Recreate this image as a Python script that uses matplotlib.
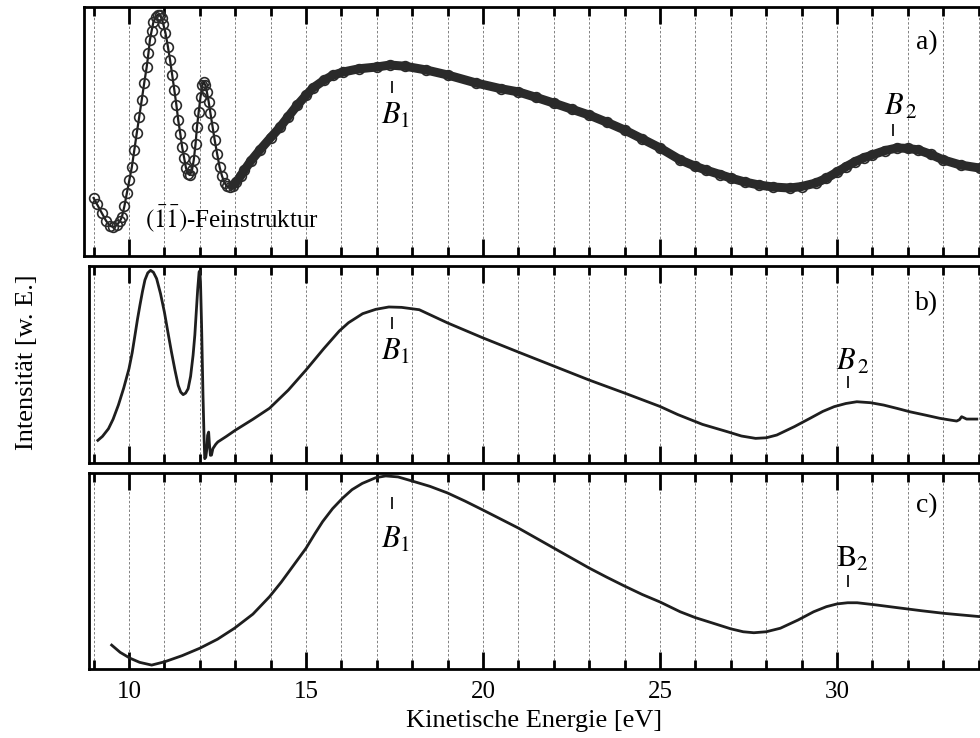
import numpy as np
import matplotlib
matplotlib.use("Agg")
import matplotlib.pyplot as plt

plt.rcParams['font.family'] = ['Liberation Serif', 'DejaVu Serif']
plt.rcParams['mathtext.fontset'] = 'stix'

# panel a) - measured fine structure (circles)
energy_a = [9.00, 9.10, 9.23, 9.35, 9.45, 9.56, 9.66, 9.75, 9.80, 9.87,
            9.94, 10.01, 10.08, 10.15, 10.22, 10.29, 10.36, 10.43, 10.50, 10.55,
            10.59, 10.64, 10.69, 10.75, 10.81, 10.87, 10.92, 10.97, 11.03, 11.10,
            11.16, 11.22, 11.28, 11.34, 11.39, 11.45, 11.50, 11.56, 11.61, 11.67,
            11.72, 11.78, 11.83, 11.88, 11.92, 11.97, 12.02, 12.07, 12.11, 12.16,
            12.20, 12.25, 12.30, 12.36, 12.42, 12.49, 12.56, 12.63, 12.70, 12.77,
            12.84, 12.93, 13.03, 13.15, 13.26, 13.45, 13.70, 14.00, 14.27, 14.50,
            14.75, 15.00, 15.20, 15.50, 15.75, 16.05, 16.50, 17.00, 17.37, 17.80,
            18.40, 19.00, 19.80, 20.50, 21.00, 21.50, 22.00, 22.50, 23.00, 23.50,
            24.00, 24.50, 25.00, 25.57, 26.00, 26.30, 26.70, 27.00, 27.40, 27.80,
            28.20, 28.67, 29.00, 29.40, 29.70, 30.00, 30.25, 30.50, 30.75, 31.00,
            31.35, 31.70, 32.00, 32.30, 32.65, 33.00, 33.50, 34.04]
intens_a = [0.233, 0.207, 0.173, 0.142, 0.122, 0.116, 0.124, 0.142, 0.157, 0.200,
            0.253, 0.305, 0.357, 0.425, 0.494, 0.560, 0.627, 0.695, 0.759, 0.815,
            0.867, 0.905, 0.940, 0.960, 0.968, 0.966, 0.956, 0.930, 0.896, 0.840,
            0.787, 0.727, 0.667, 0.605, 0.546, 0.490, 0.438, 0.392, 0.353, 0.330,
            0.325, 0.345, 0.386, 0.450, 0.518, 0.580, 0.639, 0.685, 0.699, 0.685,
            0.659, 0.620, 0.574, 0.520, 0.466, 0.410, 0.357, 0.320, 0.293, 0.280,
            0.277, 0.283, 0.297, 0.320, 0.345, 0.383, 0.426, 0.475, 0.518, 0.560,
            0.605, 0.645, 0.675, 0.705, 0.725, 0.739, 0.752, 0.759, 0.767, 0.762,
            0.747, 0.727, 0.695, 0.672, 0.659, 0.637, 0.614, 0.590, 0.566, 0.537,
            0.506, 0.470, 0.434, 0.386, 0.360, 0.345, 0.327, 0.313, 0.297, 0.285,
            0.277, 0.273, 0.279, 0.293, 0.312, 0.337, 0.358, 0.378, 0.394, 0.406,
            0.423, 0.434, 0.432, 0.426, 0.408, 0.386, 0.365, 0.353]

# panel b)
energy_b = [9.12, 9.25, 9.42, 9.55, 9.70, 9.85, 10.00, 10.09, 10.17, 10.24,
            10.31, 10.38, 10.45, 10.53, 10.61, 10.69, 10.78, 10.89, 11.00, 11.10,
            11.20, 11.30, 11.39, 11.46, 11.53, 11.60, 11.67, 11.74, 11.81, 11.86,
            11.90, 11.94, 11.98, 12.00, 12.02, 12.05, 12.09, 12.12, 12.14, 12.17,
            12.20, 12.22, 12.25, 12.27, 12.30, 12.33, 12.37, 12.45, 12.51, 12.75,
            13.00, 13.50, 13.97, 14.50, 15.00, 15.50, 15.94, 16.20, 16.60, 16.97,
            17.34, 17.70, 18.20, 19.00, 20.00, 21.00, 22.00, 23.00, 24.00, 25.00,
            25.50, 26.20, 26.90, 27.30, 27.70, 28.00, 28.30, 28.80, 29.24, 29.60,
            29.92, 30.25, 30.56, 30.95, 31.32, 31.70, 32.06, 32.50, 32.90, 33.20,
            33.38, 33.46, 33.52, 33.58, 33.66, 33.95]
intens_b = [0.115, 0.135, 0.174, 0.222, 0.294, 0.380, 0.479, 0.560, 0.650, 0.730,
            0.802, 0.870, 0.929, 0.965, 0.978, 0.968, 0.936, 0.860, 0.766, 0.663,
            0.563, 0.470, 0.394, 0.360, 0.347, 0.355, 0.377, 0.440, 0.547, 0.650,
            0.766, 0.880, 0.970, 0.975, 0.919, 0.700, 0.345, 0.130, 0.022, 0.030,
            0.073, 0.140, 0.157, 0.100, 0.039, 0.040, 0.073, 0.095, 0.107, 0.135,
            0.166, 0.222, 0.278, 0.370, 0.472, 0.580, 0.670, 0.712, 0.758, 0.780,
            0.792, 0.790, 0.778, 0.711, 0.635, 0.563, 0.492, 0.421, 0.355, 0.287,
            0.246, 0.196, 0.159, 0.137, 0.125, 0.128, 0.142, 0.185, 0.227, 0.262,
            0.286, 0.302, 0.311, 0.306, 0.294, 0.277, 0.260, 0.243, 0.227, 0.218,
            0.213, 0.220, 0.235, 0.230, 0.223, 0.223]

# panel c)
energy_c = [9.51, 9.75, 10.03, 10.30, 10.64, 11.01, 11.50, 12.00, 12.50, 12.98,
            13.50, 13.97, 14.30, 14.62, 15.00, 15.25, 15.47, 15.75, 16.03, 16.30,
            16.59, 16.97, 17.25, 17.60, 18.00, 18.50, 19.00, 19.50, 20.00, 20.50,
            21.00, 21.50, 22.00, 22.50, 23.00, 23.50, 24.00, 24.50, 25.00, 25.57,
            26.00, 26.51, 27.00, 27.35, 27.65, 28.00, 28.40, 28.90, 29.34, 29.70,
            30.00, 30.30, 30.57, 31.10, 31.70, 32.40, 33.02, 33.50, 34.05]
intens_c = [0.122, 0.085, 0.055, 0.034, 0.020, 0.037, 0.068, 0.106, 0.152, 0.208,
            0.280, 0.369, 0.443, 0.522, 0.616, 0.690, 0.752, 0.818, 0.871, 0.915,
            0.947, 0.976, 0.985, 0.980, 0.959, 0.932, 0.898, 0.856, 0.811, 0.765,
            0.719, 0.668, 0.617, 0.566, 0.515, 0.468, 0.423, 0.380, 0.342, 0.292,
            0.262, 0.233, 0.205, 0.190, 0.185, 0.190, 0.208, 0.250, 0.292, 0.318,
            0.332, 0.338, 0.338, 0.327, 0.313, 0.297, 0.284, 0.276, 0.267]

major_ticks = [10, 15, 20, 25, 30]

W, H = 980, 738
PX_PER_EV = 35.4
X10_PX = 129
X_RIGHT = 10 + (W - X10_PX) / PX_PER_EV

def px_to_ev(px):
    return 10 + (px - X10_PX) / PX_PER_EV

# (left, top, bottom) in pixels for each panel
boxes = [(84, 7, 256), (89, 266, 463), (89, 473, 669)]

fig = plt.figure(figsize=(W / 100, H / 100), dpi=100)
axes = []
for left, top, bottom in boxes:
    ax = fig.add_axes([left / W, 1 - bottom / H, 1 - left / W, (bottom - top) / H])
    ax.set_xlim(px_to_ev(left), X_RIGHT)
    ax.set_ylim(0, 1)
    ax.set_xticks(major_ticks)
    ax.set_xticks(np.arange(9, 35), minor=True)
    ax.set_yticks([])
    ax.tick_params(axis='x', which='both', direction='in', top=True, bottom=True,
                   labelbottom=False, width=2, colors='black')
    ax.tick_params(axis='x', which='major', length=12)
    ax.tick_params(axis='x', which='minor', length=6.5)
    ax.grid(True, axis='x', which='both', linestyle=(0, (2.5, 2)), lw=0.7, color='#808080')
    ax.set_axisbelow(True)
    for s in ['left', 'top', 'bottom']:
        ax.spines[s].set_linewidth(2)
    ax.spines['right'].set_visible(False)
    axes.append(ax)

ax_a, ax_b, ax_c = axes

# a) circles with line; where the points crowd together they form a dark band
ea = np.array(energy_a)
ia = np.array(intens_a)
ax_a.plot(ea, ia, color='#1e1e1e', lw=1.6, zorder=3)
ax_a.plot(ea, ia, ls='none', marker='o', ms=7, mfc='none', mec='#2a2a2a',
          mew=1.2, zorder=4)
band = ea >= 12.9
ax_a.plot(ea[band], ia[band], color='#2a2a2a', lw=6.5, solid_capstyle='round', zorder=5)

ax_b.plot(energy_b, intens_b, color='#1e1e1e', lw=2.0)
ax_c.plot(energy_c, intens_c, color='#1e1e1e', lw=2.0)

# panel letters
ax_a.text(px_to_ev(927), 1 - (43 - 7) / 249, 'a)', fontsize=20, ha='center', va='center')
ax_b.text(px_to_ev(927), 1 - (304 - 266) / 197, 'b)', fontsize=20, ha='center', va='center')
ax_c.text(px_to_ev(927), 1 - (506 - 473) / 196, 'c)', fontsize=20, ha='center', va='center')

# peak markers: (axis, tick x, tick y, text x, text y, label)
peaks = [
    (ax_a, 17.42, 0.679, 17.54, 0.562, r'$B_1$'),
    (ax_a, 31.58, 0.506, 31.80, 0.598, r'$B_{\,2}$'),
    (ax_b, 17.42, 0.711, 17.54, 0.563, r'$B_1$'),
    (ax_b, 30.31, 0.411, 30.45, 0.513, r'$B_{\,2}$'),
    (ax_c, 17.42, 0.847, 17.54, 0.658, r'$B_1$'),
    (ax_c, 30.30, 0.449, 30.45, 0.561, r'$\mathrm{B}_2$'),
]
for ax, tx, ty, lx, ly, lab in peaks:
    ax.plot([tx], [ty], marker='|', ms=9, mew=1.2, color='black')
    ax.text(lx, ly, lab, fontsize=22, ha='center', va='center')

ax_a.text(10.45, 0.15, r'$(\bar{1}\bar{1})$-Feinstruktur', fontsize=18, ha='left', va='center')

ax_c.tick_params(axis='x', which='major', labelbottom=True, labelsize=18, pad=9)
ax_c.set_xlabel('Kinetische Energie [eV]', fontsize=19, labelpad=5)
fig.text(27 / W, 1 - 362 / H, 'Intensität [w. E.]', rotation=90, fontsize=19,
         ha='center', va='center')

fig.savefig('out.png', dpi=100)
